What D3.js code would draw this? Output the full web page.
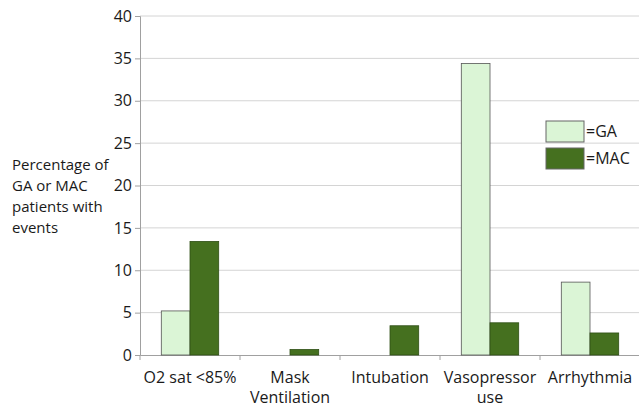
<!DOCTYPE html>
<html><head><meta charset="utf-8">
<script src="https://cdn.jsdelivr.net/npm/d3@7"></script>
<style>body{margin:0;background:#fff}svg{display:block}text{font-family:"Open Sans",sans-serif;fill:#1a1a1a}</style>
</head><body><svg id="c" width="639" height="409"></svg>
<script>
const categories = ["O2 sat <85%", "Mask\nVentilation", "Intubation", "Vasopressor\nuse", "Arrhythmia"];
const gaValues = [5.2, 0, 0, 34.4, 8.6];
const macValues = [13.4, 0.65, 3.45, 3.8, 2.6];
const seriesNames = ["=GA", "=MAC"];
const yTicks = [0, 5, 10, 15, 20, 25, 30, 35, 40];
const yTitle = ["Percentage of", "GA or MAC", "patients with", "events"];
const colors = ["#dbf5d6", "#45701f"];

const svg = d3.select("#c");
const x = d3.scaleBand().domain(categories).range([140, 640]);
const xs = d3.scaleBand().domain([0, 1]).range([0, 57.4]);
const y = d3.scaleLinear().domain([0, 40]).range([355, 16]);

// gridlines
svg.append("g").selectAll("line").data(yTicks.filter(d => d > 0)).join("line")
  .attr("x1", 140).attr("x2", 640).attr("y1", d => y(d)).attr("y2", d => y(d))
  .attr("stroke", "#d4d4d4").attr("stroke-width", 1);

// y axis
const ya = svg.append("g").attr("transform", "translate(140,0)")
  .call(d3.axisLeft(y).tickValues(yTicks).tickSize(5).tickPadding(3));
ya.select(".domain").attr("stroke", "#a0a0a0");
ya.selectAll(".tick line").attr("stroke", "#a0a0a0");
ya.selectAll(".tick text").attr("font-size", 16).attr("font-family", "Open Sans").attr("fill", "#1a1a1a");

// x axis
const xa = svg.append("g").attr("transform", "translate(0,355)")
  .call(d3.axisBottom(x).tickSize(0).tickFormat(""));
xa.select(".domain").attr("stroke", "#a0a0a0");
xa.selectAll(".tick").remove();
svg.append("g").selectAll("line").data(d3.range(categories.length + 1)).join("line")
  .attr("x1", i => 140 + i * x.step()).attr("x2", i => 140 + i * x.step())
  .attr("y1", 355).attr("y2", 360).attr("stroke", "#a0a0a0");

// x labels
const xl = svg.append("g").selectAll("text").data(categories).join("text")
  .attr("text-anchor", "middle").attr("font-size", 16)
  .attr("transform", d => `translate(${x(d) + x.bandwidth() / 2},383)`);
xl.each(function(d) {
  d.split("\n").forEach((s, i) => d3.select(this).append("tspan").attr("x", 0).attr("dy", i ? 20 : 0).text(s));
});

// bars
const bars = [gaValues, macValues];
bars.forEach((vals, si) => {
  svg.append("g").selectAll("rect").data(categories.map((c, i) => ({c, v: vals[i]})).filter(d => d.v > 0)).join("rect")
    .attr("x", d => x(d.c) + (x.bandwidth() - 57.4) / 2 + xs(si))
    .attr("width", xs.bandwidth())
    .attr("y", d => y(d.v)).attr("height", d => y(0) - y(d.v))
    .attr("fill", colors[si]).attr("stroke", si === 0 ? "#555" : "#2f4f16").attr("stroke-width", 0.8);
});

// legend
const lg = svg.append("g").attr("transform", "translate(546,121)");
seriesNames.forEach((n, i) => {
  lg.append("rect").attr("x", 0).attr("y", i * 27).attr("width", 38).attr("height", 21)
    .attr("fill", colors[i]).attr("stroke", "#666").attr("stroke-width", 1);
  lg.append("text").attr("x", 40).attr("y", i * 27 + 16).attr("font-size", 16).text(n);
});

// y title
svg.append("g").selectAll("text").data(yTitle).join("text")
  .attr("x", 12).attr("y", (d, i) => 170 + i * 21).attr("font-size", 15).text(d => d);
</script></body></html>
